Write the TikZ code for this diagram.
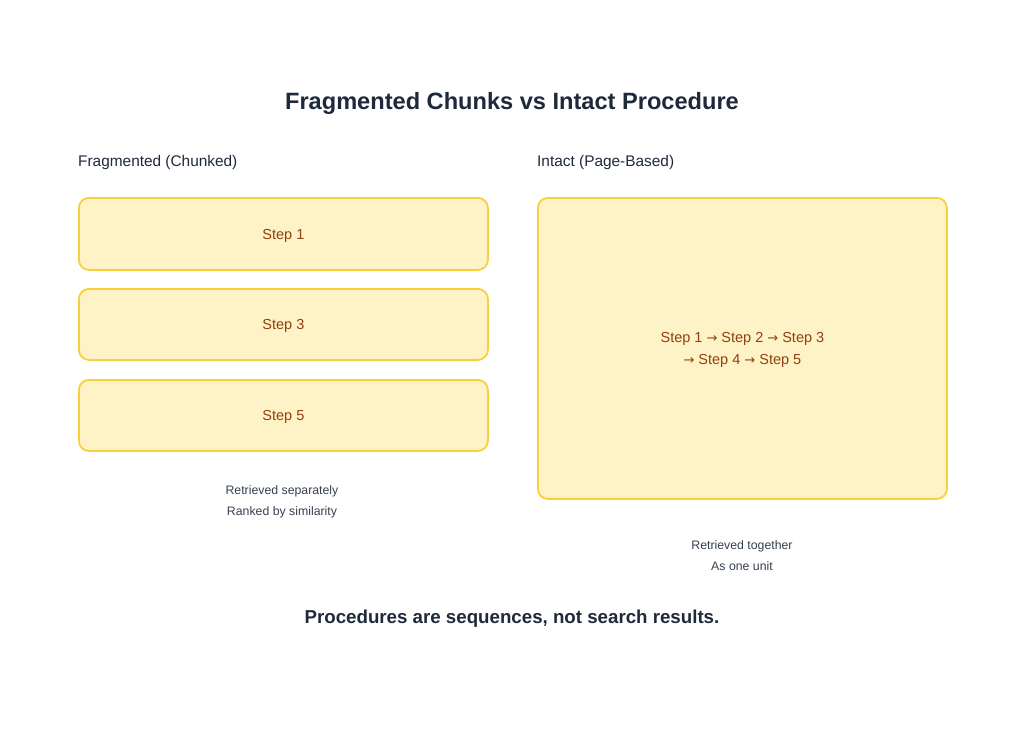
\documentclass[tikz,border=0pt]{standalone}
\usepackage{fontspec}
\setmainfont{Liberation Sans}
\newfontfamily\symfont{DejaVu Sans}
\definecolor{boxfill}{HTML}{FEF3C7}
\definecolor{boxline}{HTML}{FBCF3C}
\definecolor{boxtext}{HTML}{92400E}
\definecolor{titlec}{HTML}{1E293B}
\definecolor{capc}{HTML}{374151}
\newcommand{\arr}{{\symfont\fontsize{13}{13}\selectfont →}}
\begin{document}
\begin{tikzpicture}[x=1pt,y=-1pt,
  stepbox/.style={draw=boxline, fill=boxfill, line width=1.8pt, rounded corners=10pt, anchor=north west, inner sep=0pt},
  steptext/.style={text=boxtext, font=\fontsize{14.5}{22}\selectfont, align=center},
  heading/.style={text=titlec, font=\fontsize{15.4}{18}\selectfont, anchor=west, inner sep=0pt},
  caption/.style={text=capc, font=\fontsize{12.3}{21}\selectfont, align=center, inner sep=0pt}]
\useasboundingbox (0,0) rectangle (1024,729);
\fill[white] (0,0) rectangle (1024,729);
\node[text=titlec, font=\bfseries\fontsize{23.6}{28}\selectfont] (title) at (512,103) {Fragmented Chunks vs Intact Procedure};
\node[heading] (lh) at (78,163) {Fragmented (Chunked)};
\node[heading] (rh) at (537,163) {Intact (Page-Based)};
\node[stepbox, minimum width=409pt, minimum height=72pt] (s1) at (78,197) {};
\node[steptext] at ([yshift=-2pt]s1.center) {Step 1};
\node[stepbox, minimum width=409pt, minimum height=71pt] (s3) at (78,288) {};
\node[steptext] at ([yshift=-2pt]s3.center) {Step 3};
\node[stepbox, minimum width=409pt, minimum height=71pt] (s5) at (78,379) {};
\node[steptext] at ([yshift=-2pt]s5.center) {Step 5};
\node[stepbox, minimum width=409pt, minimum height=301pt] (page) at (537,197) {};
\node[steptext] (seq) at ([yshift=-2pt]page.center) {Step 1 \arr{} Step 2 \arr{} Step 3\\ \arr{} Step 4 \arr{} Step 5};
\node[caption] (lc) at (282,502) {Retrieved separately\\Ranked by similarity};
\node[caption] (rc) at (742,556) {Retrieved together\\As one unit};
\node[text=titlec, font=\bfseries\fontsize{18.7}{22}\selectfont] (foot) at (512,619) {Procedures are sequences, not search results.};
\end{tikzpicture}
\end{document}
